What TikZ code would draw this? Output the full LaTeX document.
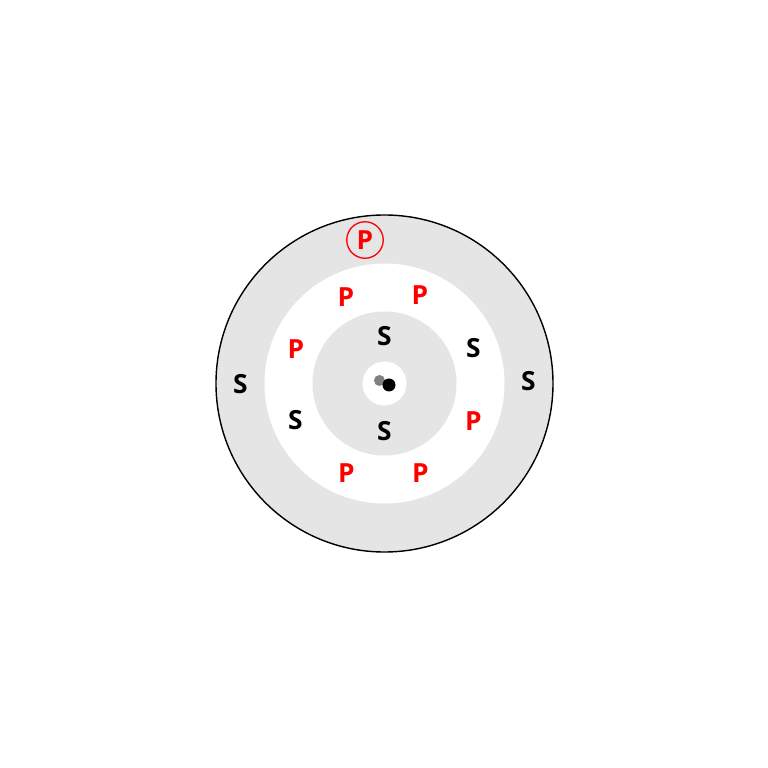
\documentclass[tikz,border=0pt]{standalone}
\usepackage{fontspec}
\setsansfont{Open Sans}
\usepackage{xcolor}
\tikzset{
  lbl/.style={inner sep=0pt,font=\sffamily\bfseries\fontsize{15}{15}\selectfont},
  sub/.style={lbl,text=black},
  pro/.style={lbl,text=red}
}
\begin{document}
\begin{tikzpicture}
                \useasboundingbox (-7.69,-7.69) rectangle (7.67,7.67);
                % rings
                \draw[fill=gray!20,line width=0.8pt] (0,0) circle (3.37);
                \fill[white] (0,0) circle (2.4);
                \fill[gray!20] (0,0) circle (1.44);
                \fill[white] (0,0) circle (0.44);
                \fill[gray] (-0.10,0.06) circle (0.11);
                \fill[black] (0.09,-0.03) circle (0.13);
                % outer ring
                \node[pro,draw=red,circle,minimum size=0.73cm,line width=0.75pt] (po) at (-0.39,2.87) {P};
                \node[sub] (sl) at (-2.88,-0.02) {S};
                \node[sub] (sr) at (2.88,0.04) {S};
                % middle ring
                \node[pro] (p1) at (-0.77,1.73) {P};
                \node[pro] (p2) at (0.71,1.77) {P};
                \node[pro] (p3) at (-1.77,0.69) {P};
                \node[sub] (s4) at (1.78,0.70) {S};
                \node[sub] (s5) at (-1.78,-0.74) {S};
                \node[pro] (p6) at (1.78,-0.76) {P};
                \node[pro] (p7) at (-0.76,-1.80) {P};
                \node[pro] (p8) at (0.72,-1.80) {P};
                % inner ring
                \node[sub] (st) at (0,0.94) {S};
                \node[sub] (sb) at (0,-0.96) {S};
            \end{tikzpicture}
\end{document}
